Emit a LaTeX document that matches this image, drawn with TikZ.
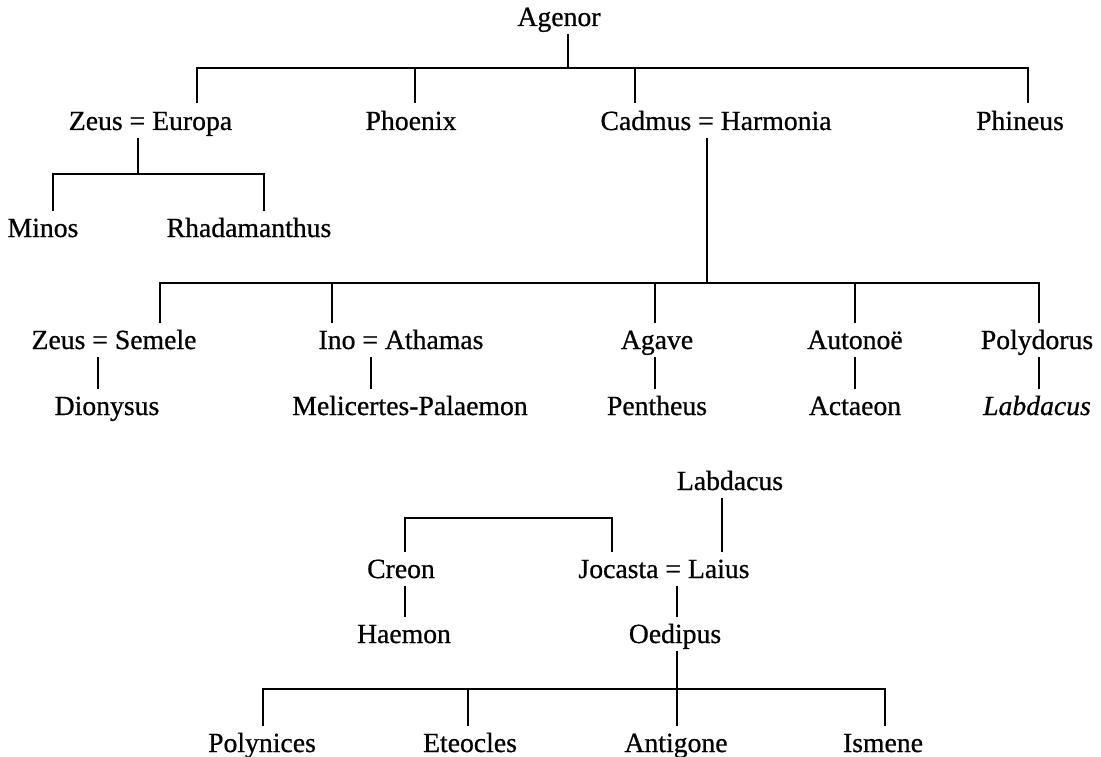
\documentclass[tikz,border=0pt]{standalone}
\usepackage{fontspec}
\setmainfont{Liberation Serif}[FakeBold=0.7]
\begin{document}
\begin{tikzpicture}[x=1pt,y=-1pt, line width=2pt,
  pn/.style={anchor=base, inner xsep=0pt, inner ysep=7pt, text height=18.5pt, text depth=0pt,
    font=\fontsize{27.7}{33}\selectfont}]
\useasboundingbox (0,0) rectangle (1101,757);
% --- people ---
\node[pn] (ag) at (559,26) {Agenor};
\node[pn] (ze) at (150.5,130) {Zeus = Europa};
\node[pn] (ph) at (411,130) {Phoenix};
\node[pn] (ca) at (716,130) {Cadmus = Harmonia};
\node[pn] (pi) at (1020,130) {Phineus};
\node[pn] (mi) at (43,237) {Minos};
\node[pn] (rh) at (249,237) {Rhadamanthus};
\node[pn] (zs) at (114,349) {Zeus = Semele};
\node[pn] (in) at (401,349) {Ino = Athamas};
\node[pn] (ga) at (657,349) {Agave};
\node[pn] (au) at (855,349) {Autonoë};
\node[pn] (po) at (1037,349) {Polydorus};
\node[pn] (di) at (107,415) {Dionysus};
\node[pn] (me) at (410,415) {Melicertes-Palaemon};
\node[pn] (pe) at (657,415) {Pentheus};
\node[pn] (ac) at (855,415) {Actaeon};
\node[pn] (la) at (1037,415) {\itshape Labdacus};
\node[pn] (lb) at (730,490) {Labdacus};
\node[pn] (cr) at (401,578) {Creon};
\node[pn] (jo) at (664,578) {Jocasta = Laius};
\node[pn] (ha) at (404,643) {Haemon};
\node[pn] (oe) at (675,643) {Oedipus};
\node[pn] (pl) at (262,752) {Polynices};
\node[pn] (et) at (470,752) {Eteocles};
\node[pn] (an) at (676,752) {Antigone};
\node[pn] (is) at (883,752) {Ismene};
% --- junction coordinates ---
\coordinate (j1) at (568,68);
\coordinate (b1l) at (197,68);
\coordinate (b1p) at (415,68);
\coordinate (b1c) at (635,68);
\coordinate (b1r) at (1028,68);
\coordinate (j2) at (138,174);
\coordinate (b2l) at (53,174);
\coordinate (b2r) at (264,174);
\coordinate (j3) at (707,283);
\coordinate (b3l) at (160,283);
\coordinate (b3i) at (332,283);
\coordinate (b3a) at (655,283);
\coordinate (b3u) at (855,283);
\coordinate (b3r) at (1039,283);
\coordinate (s1) at (98,0);
\coordinate (s2) at (371,0);
\coordinate (s3) at (655,0);
\coordinate (s4) at (855,0);
\coordinate (s5) at (1039,0);
\coordinate (s6) at (722,0);
\coordinate (b4l) at (405,518);
\coordinate (b4r) at (612,518);
\coordinate (s7) at (677,0);
\coordinate (j5) at (677,689);
\coordinate (b5l) at (263,689);
\coordinate (b5e) at (468,689);
\coordinate (b5r) at (885,689);
% --- connectors ---
\draw (j1 |- ag.south) -- (j1);
\draw (b1l |- ze.north) -- (b1l) -- (b1r) -- (b1r |- pi.north);
\draw (b1p) -- (b1p |- ph.north);
\draw (b1c) -- (b1c |- ca.north);
\draw (j2 |- ze.south) -- (j2);
\draw (b2l |- mi.north) -- (b2l) -- (b2r) -- (b2r |- rh.north);
\draw (j3 |- ca.south) -- (j3);
\draw (b3l |- zs.north) -- (b3l) -- (b3r) -- (b3r |- po.north);
\draw (b3i) -- (b3i |- in.north);
\draw (b3a) -- (b3a |- ga.north);
\draw (b3u) -- (b3u |- au.north);
\draw (s1 |- zs.south) -- (s1 |- di.north);
\draw (s2 |- in.south) -- (s2 |- me.north);
\draw (s3 |- ga.south) -- (s3 |- pe.north);
\draw (s4 |- au.south) -- (s4 |- ac.north);
\draw (s5 |- po.south) -- (s5 |- la.north);
\draw (s6 |- lb.south) -- (s6 |- jo.north);
\draw (b4l |- cr.north) -- (b4l) -- (b4r) -- (b4r |- jo.north);
\draw (b4l |- cr.south) -- (b4l |- ha.north);
\draw (s7 |- jo.south) -- (s7 |- oe.north);
\draw (s7 |- oe.south) -- (s7 |- an.north);
\draw (b5l |- pl.north) -- (b5l) -- (b5r) -- (b5r |- is.north);
\draw (b5e) -- (b5e |- et.north);
\end{tikzpicture}
\end{document}
